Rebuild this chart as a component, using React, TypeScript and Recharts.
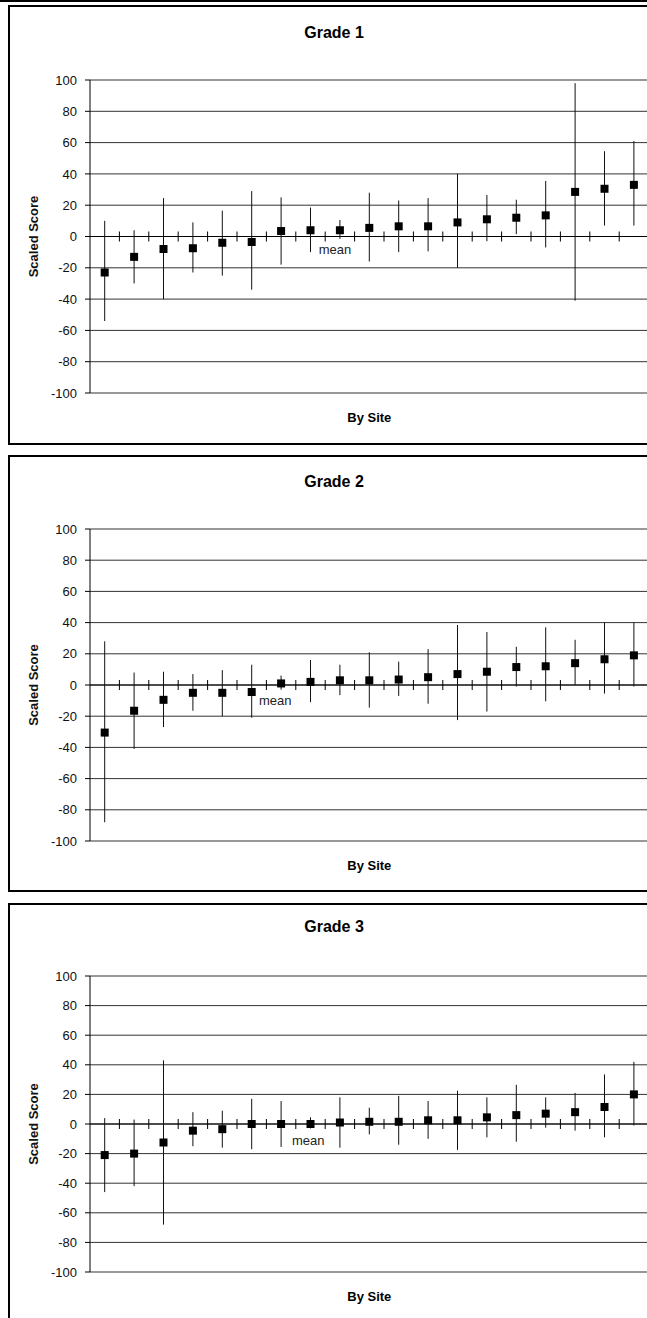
import {
  ComposedChart,
  CartesianGrid,
  ErrorBar,
  ReferenceDot,
  ReferenceLine,
  Scatter,
  XAxis,
  YAxis
} from "recharts";

// sites are sorted by mean scaled score within each grade
const siteIds = [1, 2, 3, 4, 5, 6, 7, 8, 9, 10, 11, 12, 13, 14, 15, 16, 17, 18, 19];
const yTicks = [-100, -80, -60, -40, -20, 0, 20, 40, 60, 80, 100];

const grade1Mean = [-23, -13, -8, -7.5, -4, -3.5, 3.5, 4, 4, 5.5, 6.5, 6.5, 9, 11, 12, 13.5, 28.5, 30.5, 33];
const grade1Low = [-54, -30, -40, -23, -25, -34, -18, -10, -1.5, -16, -10, -9.5, -20, -3, 1.5, -7, -41, 7, 7];
const grade1High = [10, 4, 24.5, 9, 16.5, 29, 25, 18.5, 10.5, 28, 23, 24.5, 40, 26.5, 23.5, 35.5, 98, 54.5, 61];

const grade2Mean = [-30.5, -16.5, -9.5, -5, -5, -4.5, 1, 2, 3, 3, 3.5, 5, 7, 8.5, 11.5, 12, 14, 16.5, 19];
const grade2Low = [-88, -41, -27, -16.5, -20, -21, -3, -11, -6.5, -14.5, -7, -12, -22.5, -17, -1, -10.5, 0, -5.5, -1];
const grade2High = [28, 8, 8.5, 7, 9.5, 13, 6, 16, 13, 21, 15, 23, 38.5, 34, 24.5, 37, 29, 40, 40];

const grade3Mean = [-21, -20, -12.5, -4.5, -3.5, 0, 0, 0, 1, 1.5, 1.5, 2.5, 2.5, 4.5, 6, 7, 8, 11.5, 20];
const grade3Low = [-46, -42, -68, -15, -16, -17, -15.5, -3, -16, -7, -14, -10, -17.5, -9, -12, -2.5, -4.5, -9, -1];
const grade3High = [4, 3, 43, 8, 9, 17, 15.5, 4.5, 18, 11, 19, 15.5, 22.5, 18, 26.5, 18, 21, 33.5, 42];

const boundaries = siteIds.map((id) => ({ x: id, zero: 0 }));

type Panel = {
  title: string;
  mean: number[];
  low: number[];
  high: number[];
  boxTop: number;
  boxHeight: number;
  plotTop: number;
  plotBottom: number;
  titleY: number;
  siteY: number;
  meanLabel: [number, number];
};

const panels: Panel[] = [
  {
    title: "Grade 1",
    mean: grade1Mean,
    low: grade1Low,
    high: grade1High,
    boxTop: 5,
    boxHeight: 440,
    plotTop: 80,
    plotBottom: 393,
    titleY: 33,
    siteY: 418,
    meanLabel: [8.33, -8]
  },
  {
    title: "Grade 2",
    mean: grade2Mean,
    low: grade2Low,
    high: grade2High,
    boxTop: 455,
    boxHeight: 437,
    plotTop: 529,
    plotBottom: 841,
    titleY: 482,
    siteY: 866,
    meanLabel: [6.3, -10]
  },
  {
    title: "Grade 3",
    mean: grade3Mean,
    low: grade3Low,
    high: grade3High,
    boxTop: 903,
    boxHeight: 500,
    plotTop: 976,
    plotBottom: 1272,
    titleY: 927,
    siteY: 1297,
    meanLabel: [7.42, -10.8]
  }
];

const CHART_WIDTH = 700;
const PLOT_LEFT = 90;
const PLOT_RIGHT = 648.6;

function SiteMarker(props: any) {
  const { cx, cy } = props;
  return <rect x={cx - 4} y={cy - 4} width={8} height={8} fill="#000" />;
}

function CategoryTick(props: any) {
  const { cx, cy } = props;
  return <line x1={cx} x2={cx} y1={cy - 5} y2={cy + 5} stroke="#000" strokeWidth={1} />;
}

function GradeChart({ panel }: { panel: Panel }) {
  const rows = panel.mean.map((m, i) => ({
    x: i + 0.5,
    mean: m,
    err: [m - panel.low[i], panel.high[i] - m]
  }));
  const pad = 20;
  const height = panel.plotBottom - panel.plotTop + pad * 2;

  return (
    <>
      <div
        style={{
          position: "absolute",
          left: 8,
          top: panel.boxTop,
          width: 720,
          height: panel.boxHeight,
          border: "2px solid #000",
          boxSizing: "border-box"
        }}
      />
      <div
        style={{
          position: "absolute",
          left: 234,
          width: 200,
          top: panel.titleY - 10,
          lineHeight: "20px",
          fontSize: 16,
          fontWeight: "bold",
          textAlign: "center"
        }}
      >
        {panel.title}
      </div>
      <div
        style={{
          position: "absolute",
          left: (PLOT_LEFT + PLOT_RIGHT) / 2 - 100,
          width: 200,
          top: panel.siteY - 10,
          lineHeight: "20px",
          fontSize: 13,
          fontWeight: "bold",
          textAlign: "center"
        }}
      >
        By Site
      </div>
      <div style={{ position: "absolute", left: 0, top: panel.plotTop - pad }}>
        <ComposedChart
          width={CHART_WIDTH}
          height={height}
          data={rows}
          margin={{ top: pad, right: CHART_WIDTH - PLOT_RIGHT, bottom: pad, left: 0 }}
        >
          <CartesianGrid vertical={false} stroke="#333" />
          <XAxis dataKey="x" type="number" domain={[0, siteIds.length]} hide allowDataOverflow />
          <YAxis
            type="number"
            domain={[-100, 100]}
            ticks={yTicks}
            width={PLOT_LEFT}
            interval={0}
            axisLine={{ stroke: "#000" }}
            tickLine={{ stroke: "#000" }}
            tickSize={5}
            tickMargin={8}
            tick={{ fill: "#111", fontSize: 13 }}
            label={{
              value: "Scaled Score",
              angle: -90,
              position: "insideLeft",
              offset: 33,
              style: { textAnchor: "middle", fontWeight: "bold", fontSize: 13, fill: "#111" }
            }}
          />
          <ReferenceLine y={0} stroke="#000" />
          <Scatter
            data={boundaries}
            dataKey="zero"
            shape={CategoryTick}
            isAnimationActive={false}
          />
          <Scatter dataKey="mean" shape={SiteMarker} isAnimationActive={false}>
            <ErrorBar
              dataKey="err"
              direction="y"
              width={0}
              stroke="#111"
              strokeWidth={1}
              isAnimationActive={false}
            />
          </Scatter>
          <ReferenceDot
            x={panel.meanLabel[0]}
            y={panel.meanLabel[1]}
            r={0}
            stroke="none"
            fill="none"
            label={{ value: "mean", position: "center", fill: "#222", fontSize: 13 }}
          />
        </ComposedChart>
      </div>
    </>
  );
}

export default function App() {
  return (
    <div
      style={{
        position: "fixed",
        left: 0,
        top: 0,
        width: 647,
        height: 1318,
        overflow: "hidden",
        background: "#fff",
        fontFamily: '"Liberation Sans", Arial, sans-serif',
        color: "#000"
      }}
    >
      <div style={{ position: "absolute", left: 0, top: 0, width: 647, height: 2, background: "#000" }} />
      {panels.map((p) => (
        <GradeChart key={p.title} panel={p} />
      ))}
    </div>
  );
}
